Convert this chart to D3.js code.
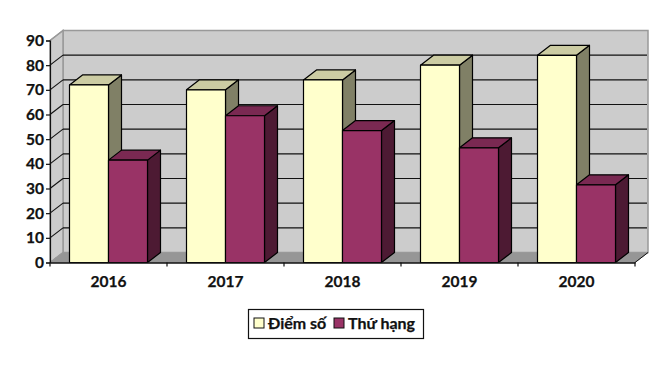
<!DOCTYPE html>
<html><head><meta charset="utf-8">
<style>html,body{margin:0;padding:0;background:#fff}svg{display:block}text{font-family:Lato,"Open Sans",sans-serif;font-weight:700;fill:#111;stroke:#111;stroke-width:.25px}</style>
<script src="https://cdn.jsdelivr.net/npm/d3@7"></script></head><body>
<svg id="c" width="650" height="377"></svg>
<script>
const categories = ["2016","2017","2018","2019","2020"];
const seriesNames = ["Điểm số","Thứ hạng"];
const diemSo = [72,70,74,80,84];
const thuHang = [41.5,59.5,53.5,46.5,31.5];
const seriesValues = [diemSo, thuHang];
const yTicks = [0,10,20,30,40,50,60,70,80,90];
const palette = [
  {front:"#FFFFCC",side:"#808066",top:"#CCCCA3"},
  {front:"#993366",side:"#4D1A33",top:"#7A2952"}
];

const svg = d3.select("#c");
const L=50,R=635,B=262.5,T=40.5,DX=13,DY=-10;
const x = d3.scaleBand().domain(categories).range([L,R]);
const inner = d3.scaleBand().domain(d3.range(seriesNames.length)).range([0,x.bandwidth()]).paddingInner(0).paddingOuter(0.5);
const y = d3.scaleLinear().domain([0,90]).range([B,T]);
const poly = pts => pts.map(p=>p.join(",")).join(" ");

// walls
svg.append("polygon").attr("points",poly([[L+DX,B+DY],[R+DX,B+DY],[R+DX,T+DY],[L+DX,T+DY]])).attr("fill","#CCCCCC").attr("stroke","#999999").attr("stroke-width",1.5);
svg.append("polygon").attr("points",poly([[L,B],[L+DX,B+DY],[L+DX,T+DY],[L,T]])).attr("fill","#CCCCCC").attr("stroke","#999999").attr("stroke-width",1.5);
svg.append("polygon").attr("points",poly([[L,B],[R,B],[R+DX,B+DY],[L+DX,B+DY]])).attr("fill","#969696").attr("stroke","#999999");

// gridlines
yTicks.filter(t=>t>0).forEach(t=>{
  const v=y(t);
  if(t<90) svg.append("line").attr("x1",L+DX).attr("x2",R+DX-1).attr("y1",v+DY).attr("y2",v+DY).attr("stroke","#111").attr("stroke-width",1.1);
  svg.append("line").attr("x1",L).attr("x2",L+DX).attr("y1",v).attr("y2",v+DY).attr("stroke",t==90?"#999999":"#111").attr("stroke-width",1.1);
});
svg.append("line").attr("x1",R).attr("x2",R+DX).attr("y1",B).attr("y2",B+DY).attr("stroke","#111").attr("stroke-width",1);
svg.append("line").attr("x1",L).attr("x2",L+DX).attr("y1",B).attr("y2",B+DY).attr("stroke","#999");

// bars
categories.forEach((c,ci)=>{
  seriesValues.forEach((vals,si)=>{
    const x0=x(c)+inner(si), x1=x0+inner.bandwidth(), y0=y(vals[ci]), col=palette[si];
    const g=svg.append("g").attr("stroke","#000").attr("stroke-width",1.2).attr("stroke-linejoin","round");
    g.append("polygon").attr("points",poly([[x1,B],[x1+DX,B+DY],[x1+DX,y0+DY],[x1,y0]])).attr("fill",col.side);
    g.append("polygon").attr("points",poly([[x0,y0],[x1,y0],[x1+DX,y0+DY],[x0+DX,y0+DY]])).attr("fill",col.top);
    g.append("rect").attr("x",x0).attr("y",y0).attr("width",x1-x0).attr("height",B-y0).attr("fill",col.front);
  });
});

// axes
const ya = svg.append("g").attr("transform",`translate(${L},0)`).call(d3.axisLeft(y).tickValues(yTicks).tickSize(4).tickPadding(2));
ya.select(".domain").attr("stroke","#111").attr("stroke-width",1.2);
ya.selectAll("line").attr("stroke","#111").attr("stroke-width",1.2);
ya.selectAll("text").style("font-size","15.5px").style("font-family","Lato").attr("fill","#111");

const xa = svg.append("g").attr("transform",`translate(0,${B})`).call(d3.axisBottom(x).tickSize(0).tickPadding(13));
xa.select(".domain").attr("stroke","#111").attr("stroke-width",1.4);
xa.selectAll("text").style("font-size","15.5px").style("font-family","Lato").attr("fill","#111");
const edges = categories.map(c=>x(c)).concat([R]);
xa.selectAll("line.edge").data(edges).join("line").attr("class","edge").attr("x1",d=>d).attr("x2",d=>d).attr("y1",0).attr("y2",4).attr("stroke","#111").attr("stroke-width",1.2);

// legend
const lg=svg.append("g");
lg.append("rect").attr("x",248.5).attr("y",309.5).attr("width",175).attr("height",29).attr("fill","#fff").attr("stroke","#111").attr("stroke-width",1.2);
const lx=[254,334];
seriesNames.forEach((n,i)=>{
  lg.append("rect").attr("x",lx[i]).attr("y",318).attr("width",10).attr("height",10).attr("fill",palette[i].front).attr("stroke","#111").attr("stroke-width",1);
  lg.append("text").attr("x",lx[i]+14).attr("y",329).style("font-size","16px").text(n);
});
</script></body></html>
